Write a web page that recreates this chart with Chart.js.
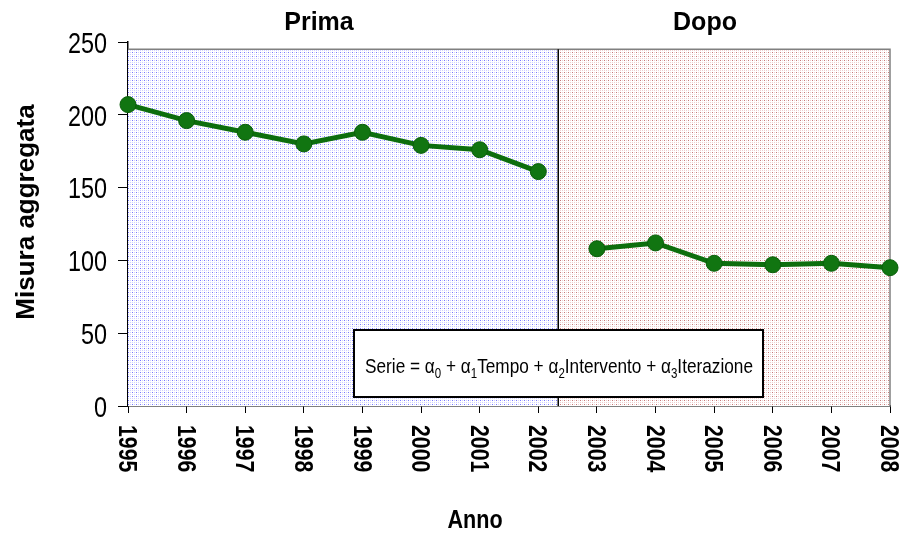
<!DOCTYPE html>
<html>
<head>
<meta charset="utf-8">
<script src="https://cdn.jsdelivr.net/npm/chart.js@4.4.1/dist/chart.umd.min.js"></script>
<style>
  html, body { margin: 0; padding: 0; background: #fff; }
</style>
</head>
<body>
<canvas id="myLineChart" width="900" height="535"></canvas>
<script>
// data
const years = ['1995', '1996', '1997', '1998', '1999', '2000', '2001', '2002',
               '2003', '2004', '2005', '2006', '2007', '2008'];
const primaValues = [207, 196, 188, 180, 188, 179, 176, 161, null, null, null, null, null, null];
const dopoValues = [null, null, null, null, null, null, null, null, 108, 112, 98, 97, 98, 95];
const yTicks = [0, 50, 100, 150, 200, 250];
const periodLabels = ['Prima', 'Dopo'];
const interventionAt = 7.34;   // index position of the break between the two periods
const shadeTop = 245;          // top of the shaded area, in y units
const formulaParts = [
    ['Serie = α', false], ['0', true], [' + α', false], ['1', true],
    ['Tempo + α', false], ['2', true], ['Intervento + α', false], ['3', true],
    ['Iterazione', false]
];

function makePattern(strong, light) {
    const c = document.createElement('canvas');
    c.width = 4;
    c.height = 4;
    const g = c.getContext('2d');
    g.fillStyle = '#ffffff';
    g.fillRect(0, 0, 4, 4);
    g.fillStyle = strong;
    g.fillRect(0, 0, 1, 1);
    g.fillStyle = light;
    g.fillRect(2, 2, 1, 1);
    g.fillRect(2, 0, 1, 1);
    g.fillRect(0, 2, 1, 1);
    return g.createPattern(c, 'repeat');
}

const ctx = document.getElementById('myLineChart').getContext('2d');
const bluePattern = makePattern('#7878ff', '#d2d2ff');
const redPattern = makePattern('#c87878', '#eed0d0');

function breakPixel(xs) {
    const i = Math.floor(interventionAt);
    const a = xs.getPixelForValue(i);
    const b = xs.getPixelForValue(i + 1);
    return a + (b - a) * (interventionAt - i);
}

// shaded periods, frame and divider
const backgroundPlugin = {
    id: 'periods',
    beforeDatasetsDraw(chart) {
        const c = chart.ctx;
        const xs = chart.scales.x;
        const ys = chart.scales.y;
        const left = chart.chartArea.left;
        const right = chart.chartArea.right;
        const bottom = chart.chartArea.bottom;
        const top = ys.getPixelForValue(shadeTop);
        const mid = breakPixel(xs);
        c.save();
        c.fillStyle = bluePattern;
        c.fillRect(left, top, mid - left, bottom - top);
        c.fillStyle = redPattern;
        c.fillRect(mid, top, right - mid, bottom - top);
        c.strokeStyle = '#808080';
        c.lineWidth = 1.5;
        c.beginPath();
        c.moveTo(left, top);
        c.lineTo(right, top);
        c.lineTo(right, bottom);
        c.stroke();
        c.strokeStyle = '#000';
        c.lineWidth = 1.5;
        c.beginPath();
        c.moveTo(mid, top);
        c.lineTo(mid, bottom);
        c.stroke();
        c.restore();
    },
    afterDraw(chart) {
        const c = chart.ctx;
        const xs = chart.scales.x;
        const ys = chart.scales.y;
        c.save();
        c.fillStyle = '#000';

        // period titles
        c.font = 'bold 25px "Liberation Sans", Arial, sans-serif';
        c.textAlign = 'center';
        c.textBaseline = 'alphabetic';
        c.fillText(periodLabels[0], 319, 30);
        c.fillText(periodLabels[1], 705, 30);

        // y tick labels, narrow
        const ysize = 30;
        c.font = ysize + 'px "Liberation Sans", Arial, sans-serif';
        c.textAlign = 'right';
        ys.ticks.forEach(t => {
            const y = ys.getPixelForValue(t.value);
            c.save();
            c.translate(107, y + ysize * 0.716 / 2);
            c.scale(0.78, 1);
            c.fillText(String(t.value), 0, 0);
            c.restore();
        });

        // x tick labels, rotated clockwise
        const xsize = 25;
        c.font = 'bold ' + xsize + 'px "Liberation Sans", Arial, sans-serif';
        c.textAlign = 'left';
        xs.ticks.forEach((t, i) => {
            const x = xs.getPixelForTick(i);
            c.save();
            c.translate(x, 425);
            c.rotate(Math.PI / 2);
            c.scale(0.85, 1);
            c.fillText(years[i], 0, xsize * 0.716 / 2);
            c.restore();
        });

        // axis titles
        c.font = 'bold 26px "Liberation Sans", Arial, sans-serif';
        c.textAlign = 'center';
        c.save();
        c.translate(34, 212);
        c.rotate(-Math.PI / 2);
        c.fillText('Misura aggregata', 0, 0);
        c.restore();
        c.save();
        c.translate(475, 528);
        c.scale(0.83, 1);
        c.fillText('Anno', 0, 0);
        c.restore();

        // formula box
        const bx = 354, by = 330, bw = 409, bh = 67;
        c.fillStyle = '#fff';
        c.fillRect(bx, by, bw, bh);
        c.strokeStyle = '#000';
        c.lineWidth = 2;
        c.strokeRect(bx, by, bw, bh);
        const mainFont = '21px "Liberation Sans", Arial, sans-serif';
        const subFont = '14px "Liberation Sans", Arial, sans-serif';
        let total = 0;
        formulaParts.forEach(p => {
            c.font = p[1] ? subFont : mainFont;
            total += c.measureText(p[0]).width;
        });
        const target = 388;
        c.save();
        c.translate(365, 373);
        c.scale(target / total, 1);
        c.fillStyle = '#000';
        c.textAlign = 'left';
        let px = 0;
        formulaParts.forEach(p => {
            c.font = p[1] ? subFont : mainFont;
            c.fillText(p[0], px, p[1] ? 5 : 0);
            px += c.measureText(p[0]).width;
        });
        c.restore();
        c.restore();
    }
};

const lineStyle = {
    borderColor: '#0d6e0d',
    borderWidth: 5,
    pointRadius: 8,
    pointHoverRadius: 8,
    pointBackgroundColor: '#117511',
    pointBorderColor: '#0b5e0b',
    pointBorderWidth: 1,
    spanGaps: false,
    tension: 0,
    clip: false
};

const lineData = {
    labels: years,
    datasets: [
        Object.assign({ label: periodLabels[0], data: primaValues }, lineStyle),
        Object.assign({ label: periodLabels[1], data: dopoValues }, lineStyle)
    ]
};

const lineConfig = {
    type: 'line',
    data: lineData,
    options: {
        responsive: false,
        animation: false,
        layout: {
            padding: { left: 8, right: 10, top: 42, bottom: 3 }
        },
        plugins: {
            legend: { display: false },
            tooltip: { enabled: false }
        },
        scales: {
            x: {
                type: 'category',
                offset: false,
                grid: {
                    drawOnChartArea: false,
                    drawTicks: true,
                    tickLength: 7,
                    color: '#000'
                },
                border: { display: true, color: '#000', width: 1.5 },
                ticks: { display: false, autoSkip: false },
                afterFit(scale) { scale.height = 126; }
            },
            y: {
                min: 0,
                max: 250,
                afterBuildTicks(scale) {
                    scale.ticks = yTicks.map(v => ({ value: v }));
                },
                grid: {
                    drawOnChartArea: false,
                    drawTicks: true,
                    tickLength: 10,
                    color: '#000'
                },
                border: { display: true, color: '#000', width: 1.5 },
                ticks: { display: false },
                afterFit(scale) { scale.width = 120; }
            }
        }
    },
    plugins: [backgroundPlugin]
};

const myLineChart = new Chart(ctx, lineConfig);
</script>
</body>
</html>
